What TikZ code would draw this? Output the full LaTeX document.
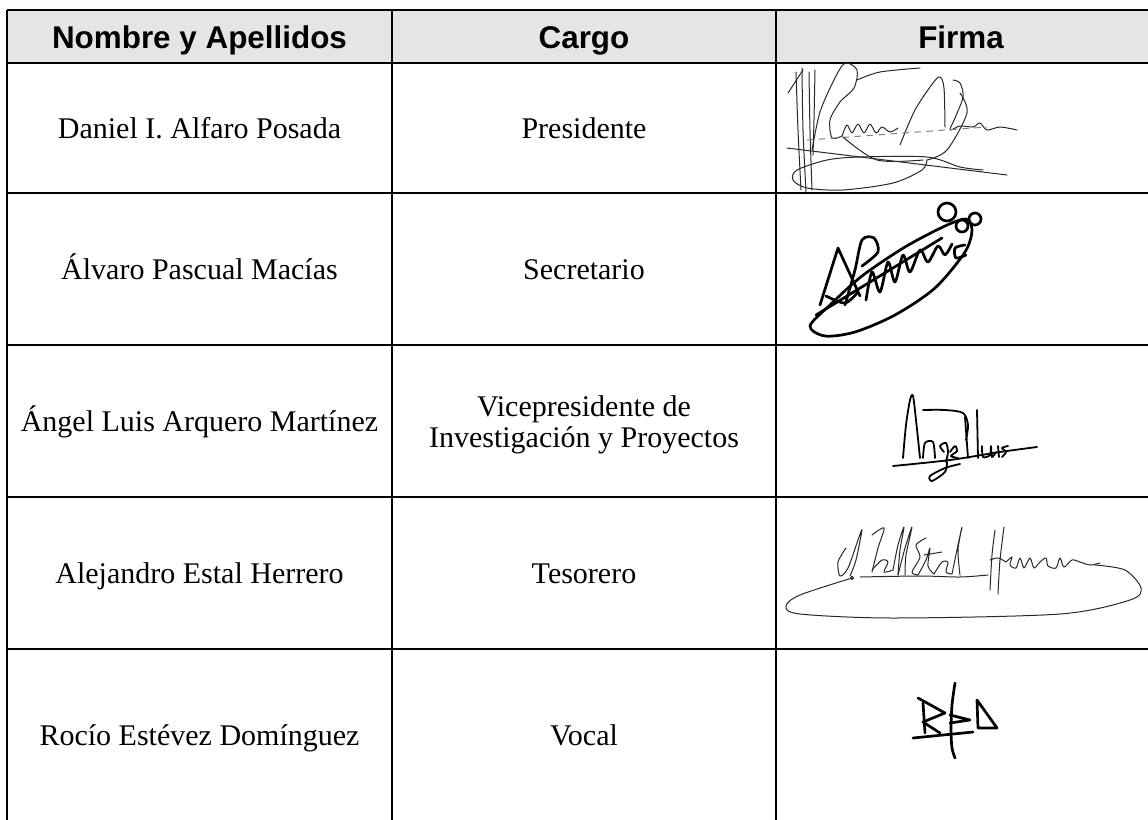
\documentclass[tikz,border=0pt]{standalone}
\usepackage{fontspec}
\setmainfont{Liberation Serif}
\newfontfamily\hdrfont{Liberation Sans}
\definecolor{hdrgray}{RGB}{229,229,229}
\definecolor{inkgray}{RGB}{40,40,40}
\begin{document}
\begin{tikzpicture}[x=0.5pt,y=-0.5pt,
  gridline/.style={line width=1.1pt},
  hdr/.style={font=\hdrfont\bfseries\fontsize{15.7}{18}\selectfont, anchor=base},
  cell/.style={font=\fontsize{15}{15.8}\selectfont, anchor=base},
  sigthin/.style={draw=inkgray, line width=0.5pt, line cap=round, line join=round},
  sigmid/.style={line width=0.9pt, line cap=round, line join=round},
  sigthick/.style={line width=1.35pt, line cap=round, line join=round}]
\useasboundingbox (0,0) rectangle (1148,820);
% header background
\fill[hdrgray] (7,10) rectangle (1148,63);
% grid
\draw[gridline] (7,10) -- (1148,10);
\foreach \yy in {63,193,345,497,649} \draw[gridline] (7,\yy) -- (1148,\yy);
\foreach \xx in {7,392,776} \draw[gridline] (\xx,10) -- (\xx,820);
% header
\node[hdr] (h1) at (199.5,48) {Nombre y Apellidos};
\node[hdr] (h2) at (584,48) {Cargo};
\node[hdr] (h3) at (961,48) {Firma};
% rows
\node[cell] (n1) at (199.5,138) {Daniel I. Alfaro Posada};
\node[cell] (c1) at (584,138) {Presidente};
\node[cell] (n2) at (199.5,279) {Álvaro Pascual Macías};
\node[cell] (c2) at (584,279) {Secretario};
\node[cell] (n3) at (199.5,431) {Ángel Luis Arquero Martínez};
\node[cell] (c3) at (584,416) {Vicepresidente de};
\node[cell] (c3b) at (584,447) {Investigación y Proyectos};
\node[cell] (n4) at (199.5,583) {Alejandro Estal Herrero};
\node[cell] (c4) at (584,583) {Tesorero};
\node[cell] (n5) at (199.5,745) {Rocío Estévez Domínguez};
\node[cell] (c5) at (584,745) {Vocal};
% ---------------- signature 1
\draw[sigthin] plot[smooth] coordinates {(796,72) (798,130) (801,190)};
\draw[sigthin] plot[smooth] coordinates {(802,68) (803,130) (806,192)};
\draw[sigthin] plot[smooth] coordinates {(809,72) (810,130) (812,190)};
\draw[sigthin] plot[smooth] coordinates {(815,70) (814,120) (813,155)};
\draw[sigthin] (788,93) -- (803,70);
\draw[sigthin] plot[smooth] coordinates {(812,150) (820,112) (834,80) (845,63) (857,70) (854,88) (840,102) (830,120) (832,138) (842,136)};
\draw[sigthin] plot[smooth] coordinates {(842,136) (847,125) (852,133) (858,124) (864,133) (870,124) (876,133) (882,127) (890,132) (898,128)};
\draw[sigthin] plot[smooth] coordinates {(857,80) (880,72) (920,68)};
\draw[sigthin] plot[smooth] coordinates {(900,145) (915,110) (933,83) (940,77) (944,88) (945,127)};
\draw[sigthin] plot[smooth] coordinates {(953,80) (960,83) (963,97) (955,118) (950,130) (960,126) (973,127) (980,123) (987,130) (1000,127) (1017,130)};
\draw[sigthin] plot[smooth] coordinates {(960,93) (967,113) (947,150) (927,160)};
\draw[sigthin, dashed, draw=gray] (807,140) -- (987,127);
\draw[sigthin] (787,148) -- (1007,175);
\draw[sigthin] plot[smooth] coordinates {(927,160) (922,170) (893,183) (843,190) (807,188) (793,180) (797,170) (827,160) (860,157) (927,157) (960,167) (983,170)};
\draw[sigthin] plot[smooth] coordinates {(843,137) (877,160) (923,160)};
% ---------------- signature 2
\draw[sigthick] plot[smooth cycle] coordinates {(810,326) (830,305) (862,276) (905,247) (945,226) (966,219) (972,230) (965,252) (935,288) (895,315) (855,332) (825,336)};
\draw[sigthick] (947,212) circle[radius=4.5pt];
\draw[sigthick] (962,226) circle[radius=3pt];
\draw[sigthick] (975,219) circle[radius=3pt];
\draw[sigthick] (820,305) -- (838,248) -- (860,296);
\draw[sigthick] plot[smooth] coordinates {(826,296) (845,303) (858,292)};
\draw[sigthick] plot[smooth] coordinates {(845,305) (855,270) (862,240) (874,238) (878,252) (862,266)};
\draw[sigthick] (816,315) -- (942,238);
\draw[sigthick] plot[smooth] coordinates {(866,300) (872,272) (880,292) (888,262) (895,282) (903,255) (910,272) (920,250) (928,262) (938,246) (945,255) (952,244)};
\draw[sigthick] plot[smooth] coordinates {(965,245) (955,248) (956,258) (966,255)};
% ---------------- signature 3
\draw[sigmid] plot[smooth] coordinates {(903,458) (906,425) (910,400) (913,396) (916,420) (920,458)};
\draw[sigmid] plot[smooth] coordinates {(923,458) (925,443) (933,442) (935,458)};
\draw[sigmid] plot[smooth] coordinates {(944,452) (940,446) (946,443) (948,452) (946,462)};
\draw[sigmid] plot[smooth] coordinates {(950,452) (955,446) (957,451) (951,456) (958,458)};
\draw[sigmid] plot[smooth] coordinates {(923,410) (945,410) (963,413) (968,425) (966,440)};
\draw[sigmid] (965,417) -- (968,458);
\draw[sigmid] (977,410) -- (978,458);
\draw[sigmid] plot[smooth] coordinates {(982,446) (983,457) (990,455) (991,446) (992,457) (996,452)};
\draw[sigmid] (998,446) -- (999,457);
\draw[sigmid] plot[smooth] coordinates {(1008,446) (1002,448) (1006,452) (1002,457)};
\draw[sigmid] plot[smooth] coordinates {(893,466) (950,460) (1000,452) (1037,447)};
\draw[sigmid] plot[smooth] coordinates {(947,462) (945,472) (932,481) (930,476) (945,468) (960,464)};
% ---------------- signature 4
\draw[sigthin] plot[smooth] coordinates {(852,578) (800,595) (786,606) (800,614) (893,618) (1060,614) (1130,600) (1141,588) (1125,570) (1095,565)};
\draw[sigthin] plot[smooth] coordinates {(846,548) (838,562) (840,576) (848,568) (858,540) (862,530) (856,560) (850,576)};
\draw[sigthin] (852,578) circle[radius=0.8pt];
\draw[sigthin] plot[smooth] coordinates {(872,535) (884,528) (878,548) (872,572)};
\draw[sigthin] plot[smooth] coordinates {(872,570) (882,560) (888,562) (884,572) (893,570)};
\draw[sigthin] plot[smooth] coordinates {(893,570) (898,545) (904,527) (900,550) (898,575)};
\draw[sigthin] plot[smooth] coordinates {(898,575) (905,548) (912,527) (906,555) (905,575)};
\draw[sigthin] plot[smooth] coordinates {(926,538) (916,545) (920,557) (912,572) (918,575)};
\draw[sigthin] plot[smooth] coordinates {(918,575) (926,560) (930,548) (928,566) (934,574)};
\draw[sigthin] plot[smooth] coordinates {(924,555) (942,552)};
\draw[sigthin] plot[smooth] coordinates {(934,574) (942,562) (948,562) (946,572) (952,574)};
\draw[sigthin] plot[smooth] coordinates {(952,574) (958,545) (962,527) (958,550) (960,575)};
\draw[sigthin] plot[smooth] coordinates {(860,577) (920,576) (960,577) (988,575)};
\draw[sigthin] plot[smooth] coordinates {(995,530) (992,555) (990,590)};
\draw[sigthin] plot[smooth] coordinates {(1004,527) (1000,560) (998,594)};
\draw[sigthin] plot[smooth] coordinates {(990,560) (998,558) (1006,562)};
\draw[sigthin] plot[smooth] coordinates {(1006,562) (1012,557) (1010,565) (1016,568) (1020,558) (1024,568) (1030,558) (1034,568) (1040,562) (1046,558) (1048,566) (1056,568) (1060,558) (1064,567) (1072,560) (1080,562) (1090,565) (1100,563)};
% ---------------- signature 5
\draw[sigthick] plot[smooth] coordinates {(955,683) (952,705) (951,730) (952,748) (955,758)};
\draw[sigthick] (923,703) -- (925,733);
\draw[sigthick] (918,698) -- (945,713) -- (923,722) -- (940,733);
\draw[sigthick] (913,738) -- (973,732);
\draw[sigthick] (950,715) -- (970,720) -- (950,723);
\draw[sigthick] (977,700) -- (978,728) -- (997,728) -- cycle;
\end{tikzpicture}
\end{document}
